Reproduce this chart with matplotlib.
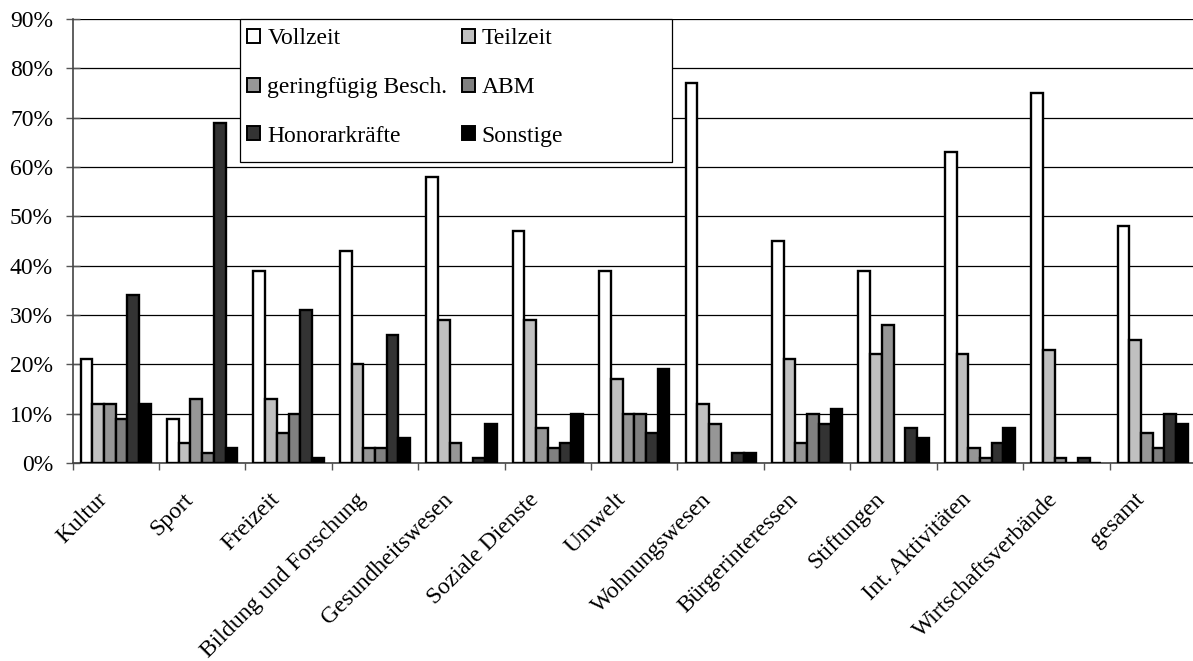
import matplotlib
matplotlib.use("Agg")
import matplotlib.pyplot as plt
import matplotlib.patches as mpatches
import matplotlib.transforms as mtransforms
import numpy as np

plt.rcParams["font.family"] = ["Liberation Serif", "DejaVu Serif"]

categories = ["Kultur", "Sport", "Freizeit", "Bildung und Forschung",
              "Gesundheitswesen", "Soziale Dienste", "Umwelt", "Wohnungswesen",
              "Bürgerinteressen", "Stiftungen", "Int. Aktivitäten",
              "Wirtschaftsverbände", "gesamt"]
series = ["Vollzeit", "Teilzeit", "geringfügig Besch.", "ABM",
          "Honorarkräfte", "Sonstige"]

vollzeit = [21, 9, 39, 43, 58, 47, 39, 77, 45, 39, 63, 75, 48]
teilzeit = [12, 4, 13, 20, 29, 29, 17, 12, 21, 22, 22, 23, 25]
geringfuegig = [12, 13, 6, 3, 4, 7, 10, 8, 4, 28, 3, 1, 6]
abm = [9, 2, 10, 3, 0, 3, 10, 0, 10, 0, 1, 0, 3]
honorar = [34, 69, 31, 26, 1, 4, 6, 2, 8, 7, 4, 1, 10]
sonstige = [12, 3, 1, 5, 8, 10, 19, 2, 11, 5, 7, 0, 8]

values = [vollzeit, teilzeit, geringfuegig, abm, honorar, sonstige]
colors = ["#FFFFFF", "#C0C0C0", "#969696", "#808080", "#333333", "#000000"]

W, H = 1193, 661
fig = plt.figure(figsize=(W / 100, H / 100), dpi=100)
left, right, top, bottom = 72.5, 1196, 19, 463
ax = fig.add_axes([left / W, 1 - bottom / H, (right - left) / W, (bottom - top) / H])

x = np.arange(len(categories))
w = 0.1355
bars = []
for i, (vals, col, name) in enumerate(zip(values, colors, series)):
    pos = x + (i - 2.5) * w
    b = ax.bar(pos, np.array(vals) / 100, width=w, color=col, edgecolor="black",
               linewidth=1.7, label=name, zorder=3)
    bars.append(b)

ax.set_xlim(-0.5, len(categories) - 0.5)
ax.set_ylim(0, 0.9)
yt = np.arange(0, 0.91, 0.1)
ax.set_yticks(yt)
ax.set_yticklabels([f"{int(round(v * 100))}%" for v in yt], fontsize=17)
ax.yaxis.grid(True, color="black", linewidth=0.9)
ax.set_axisbelow(True)

ax.set_xticks(x)
ax.set_xticklabels(categories, rotation=45, ha="right", va="center",
                   rotation_mode="anchor", fontsize=17)
ax.tick_params(axis="x", which="major", length=0, pad=24)
# labels sit a little left of the category centre, like in the original
shift = mtransforms.ScaledTranslation(-12 / 100, 0, fig.dpi_scale_trans)
for lab in ax.get_xticklabels():
    lab.set_transform(lab.get_transform() + shift)
ax.set_xticks(np.arange(-0.5, len(categories), 1), minor=True)
ax.tick_params(axis="x", which="minor", length=5, width=1, color="#555555")
ax.tick_params(axis="y", length=10, width=1, direction="inout", color="#555555", pad=9)

for s in ["top", "right"]:
    ax.spines[s].set_visible(False)
ax.spines["left"].set_color("#444444")
ax.spines["bottom"].set_color("#444444")
ax.spines["left"].set_linewidth(1.2)
ax.spines["bottom"].set_linewidth(1.2)

# legend frame drawn as a fixed box, entries row-wise like the original
frame = mpatches.Rectangle((240 / W, 1 - 162 / H), (672 - 240) / W, (162 - 19) / H,
                           transform=fig.transFigure, facecolor="white",
                           edgecolor="black", linewidth=0.9, zorder=4)
fig.patches.append(frame)
order = [0, 2, 4, 1, 3, 5]
leg = fig.legend([bars[i] for i in order], [series[i] for i in order], ncol=2,
                 loc="upper left", bbox_to_anchor=(245 / W, 1 - 26 / H),
                 fontsize=17, frameon=False,
                 handlelength=0.55, handleheight=0.55, handletextpad=0.3,
                 columnspacing=0.6, labelspacing=1.17, borderpad=0.1,
                 borderaxespad=0)
leg.set_zorder(5)
for h in leg.legend_handles:
    h.set_linewidth(1.4)

fig.savefig("out.png", dpi=100, facecolor="white")
